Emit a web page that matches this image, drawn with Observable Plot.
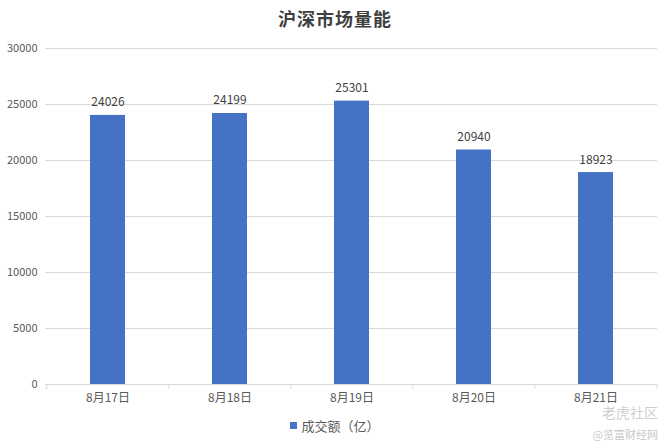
<!DOCTYPE html>
<html><head><meta charset="utf-8">
<script src="https://cdn.jsdelivr.net/npm/d3@7"></script>
<script src="https://cdn.jsdelivr.net/npm/@observablehq/plot@0.6"></script>
<style>
body{margin:0;background:#fff;font-family:"Noto Sans CJK SC","Noto Sans",sans-serif;width:670px;height:443px;position:relative;overflow:hidden}
#title{height:36px;line-height:36px;text-align:center;font-size:18px;font-weight:bold;color:#404040;letter-spacing:1px}
#legend{height:28px;display:flex;align-items:center;justify-content:center;font-size:13px;color:#595959}
#legend span.sw{display:inline-block;width:7px;height:7px;background:#4472C4;margin-right:4px}
.wm{position:absolute;color:#c8c8c8;right:12px;line-height:1}
</style></head>
<body>
<div id="title">沪深市场量能</div>
<div id="chart"></div>
<div id="legend"><span class="sw"></span>成交额（亿）</div>
<div class="wm" style="top:405px;font-size:14px;color:#cfcfcf">老虎社区</div>
<div class="wm" style="top:429px;font-size:11px">@览富财经网</div>
<script>
const categories = ["8月17日","8月18日","8月19日","8月20日","8月21日"];
const values = [24026, 24199, 25301, 20940, 18923];
const yTicks = [0,5000,10000,15000,20000,25000,30000];

const data = categories.map((c,i)=>({cat:c, v:values[i]}));
const W = 670, mL = 45, mR = 13;
const step = (W - mL - mR) / categories.length;

const chart = Plot.plot({
  width: W, height: 375,
  marginLeft: mL, marginRight: mR, marginTop: 12, marginBottom: 27,
  style: {fontFamily: '"Noto Sans CJK SC","Noto Sans",sans-serif', fontSize: "11px", color: "#595959", background: "#fff"},
  x: {domain: categories, paddingInner: 0.714, paddingOuter: 0.357, label: null},
  y: {domain: [0, 30000], ticks: yTicks, label: null},
  marks: [
    Plot.ruleY(yTicks, {stroke: "#d9d9d9", strokeWidth: 1}),
    Plot.axisY({ticks: yTicks, tickSize: 0, tickPadding: 8, fontSize: 11, fill: "#595959", tickFormat: d => String(d)}),
    Plot.axisX({tickSize: 0, tickPadding: 9, fontSize: 12, fill: "#595959"}),
    Plot.barY(data, {x: "cat", y: "v", fill: "#4472C4"}),
    Plot.ruleX(data, {x: "cat", dx: -step/2, y1: 0, y2: 0, insetBottom: -5, stroke: "#d9d9d9"}),
    Plot.ruleX([data[data.length-1]], {x: "cat", dx: step/2, y1: 0, y2: 0, insetBottom: -5, stroke: "#d9d9d9"}),
    Plot.ruleY([0], {stroke: "#d9d9d9"}),
    Plot.text(data, {x: "cat", y: "v", text: d => String(d.v), lineAnchor: "bottom", dy: -9, fontSize: 12, fill: "#404040"})
  ]
});
document.getElementById("chart").appendChild(chart);
</script>
</body></html>
